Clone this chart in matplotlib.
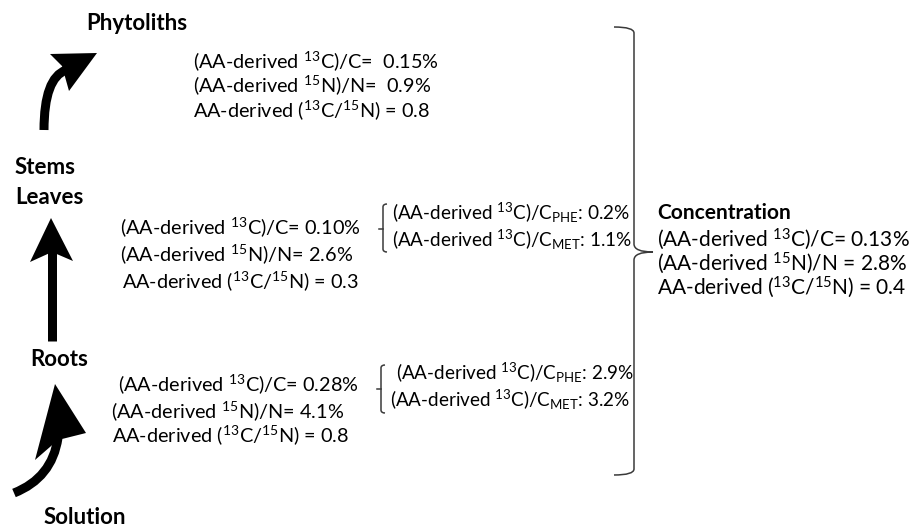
import matplotlib
matplotlib.use("Agg")
import matplotlib.pyplot as plt
from matplotlib.path import Path
from matplotlib.patches import PathPatch, Polygon

FONT = "Lato"
plt.rcParams['font.family'] = [FONT, 'DejaVu Sans']
plt.rcParams['mathtext.fontset'] = 'custom'
plt.rcParams['mathtext.rm'] = FONT
plt.rcParams['mathtext.it'] = FONT + ':italic'
plt.rcParams['mathtext.bf'] = FONT + ':bold'

C13 = r"$^{\mathrm{13}}$"
N15 = r"$^{\mathrm{15}}$"

# ---- texts / values ----
stage_labels = ["Phytoliths", "Stems", "Leaves", "Roots", "Solution", "Concentration"]

phyto_lines = [f"(AA-derived {C13}C)/C=  0.15%",
               f"(AA-derived {N15}N)/N=  0.9%",
               f"AA-derived ({C13}C/{N15}N) = 0.8"]
stem_lines = [f"(AA-derived {C13}C)/C= 0.10%",
              f"(AA-derived {N15}N)/N= 2.6%",
              f"AA-derived ({C13}C/{N15}N) = 0.3"]
stem_aa = [f"(AA-derived {C13}C)/C" + r"$_{\mathrm{PHE}}$" + ": 0.2%",
           f"(AA-derived {C13}C)/C" + r"$_{\mathrm{MET}}$" + ": 1.1%"]
root_lines = [f"(AA-derived {C13}C)/C= 0.28%",
              f"(AA-derived {N15}N)/N= 4.1%",
              f"AA-derived ({C13}C/{N15}N) = 0.8"]
root_aa = [f"(AA-derived {C13}C)/C" + r"$_{\mathrm{PHE}}$" + ": 2.9%",
           f"(AA-derived {C13}C)/C" + r"$_{\mathrm{MET}}$" + ": 3.2%"]
conc_lines = [f"(AA-derived {C13}C)/C= 0.13%",
              f"(AA-derived {N15}N)/N = 2.8%",
              f"AA-derived ({C13}C/{N15}N) = 0.4"]

W, H = 921, 530
fig = plt.figure(figsize=(W / 100, H / 100), dpi=100)
ax = fig.add_axes([0, 0, 1, 1])
ax.set_xlim(0, W)
ax.set_ylim(H, 0)
ax.axis('off')

FS = 14.3
BFS = 16

def txt(x, y, s, bold=False, fs=None):
    ax.text(x, y, s, fontsize=fs or (BFS if bold else FS),
            fontweight='bold' if bold else 'normal',
            ha='left', va='center', color='black')

# bold labels
txt(86, 23, stage_labels[0], True)
txt(15, 167, stage_labels[1], True)
txt(15, 198, stage_labels[2], True)
txt(30, 359, stage_labels[3], True)
txt(44, 518, stage_labels[4], True)
txt(657, 213, stage_labels[5], True, 15)

for s, (x, y) in zip(phyto_lines, [(193, 61), (193, 85), (193, 110)]):
    txt(x, y, s)
for s, (x, y) in zip(stem_lines, [(120, 227), (120, 254), (122, 281)]):
    txt(x, y, s)
for s, (x, y) in zip(stem_aa, [(392, 213), (392, 240)]):
    txt(x, y, s, fs=13.6)
for s, (x, y) in zip(root_lines, [(118, 384), (111, 411), (112, 435)]):
    txt(x, y, s)
for s, (x, y) in zip(root_aa, [(396, 373), (390, 400)]):
    txt(x, y, s, fs=13.6)
for s, (x, y) in zip(conc_lines, [(657, 239), (657, 263), (657, 287)]):
    txt(x, y, s, fs=15)

LW_ARROW = 9 * 0.72

def curve(pts, lw, color='black', cap='butt'):
    codes = [Path.MOVETO] + [Path.CURVE3] * (len(pts) - 1)
    ax.add_patch(PathPatch(Path(pts, codes), fill=False, lw=lw, color=color,
                           capstyle=cap, joinstyle='round'))

# top curved arrow (Stems -> Phytoliths)
curve([(44, 130), (44, 78), (66, 70)], LW_ARROW)
ax.add_patch(Polygon([(97, 53), (50, 54), (62, 66), (69, 91)], closed=True,
                     color='black', lw=0))

# vertical arrow (Roots -> Stems)
ax.plot([52, 52], [341, 250], color='black', lw=LW_ARROW, solid_capstyle='butt')
ax.add_patch(Polygon([(51, 218), (30, 262), (52, 252), (73, 261)], closed=True,
                     color='black', lw=0))

# bottom curved arrow (Solution -> Roots)
curve([(14, 493), (52, 478), (58, 438)], LW_ARROW)
ax.add_patch(Polygon([(55, 384), (35, 460), (58, 440), (86, 433)], closed=True,
                     color='black', lw=0))

BR = '#3a3a3a'
BLW = 1.1

def small_bracket(x, y0, y1, ym):
    codes = [Path.MOVETO, Path.CURVE3, Path.CURVE3, Path.LINETO,
             Path.CURVE3, Path.CURVE3]
    pts = [(x + 4, y0), (x, y0), (x, y0 + 3), (x, y1 - 3), (x, y1), (x + 4, y1)]
    ax.add_patch(PathPatch(Path(pts, codes), fill=False, lw=BLW, color=BR))
    ax.plot([x - 4, x], [ym, ym], color=BR, lw=BLW)

small_bracket(383, 204, 252, 229)
small_bracket(381, 365, 413, 389)

# big brace
bx, top, bot, tipx, tipy = 634, 27, 475, 653, 252
codes = [Path.MOVETO, Path.CURVE3, Path.CURVE3, Path.LINETO, Path.CURVE3, Path.CURVE3,
         Path.CURVE3, Path.CURVE3, Path.LINETO, Path.CURVE3, Path.CURVE3]
pts = [(614, top), (bx, top), (bx, top + 6),
       (bx, tipy - 8), (bx, tipy), (tipx, tipy),
       (bx, tipy), (bx, tipy + 8),
       (bx, bot - 6), (bx, bot), (614, bot)]
ax.add_patch(PathPatch(Path(pts, codes), fill=False, lw=BLW, color=BR))

fig.savefig("out.png", dpi=100)
